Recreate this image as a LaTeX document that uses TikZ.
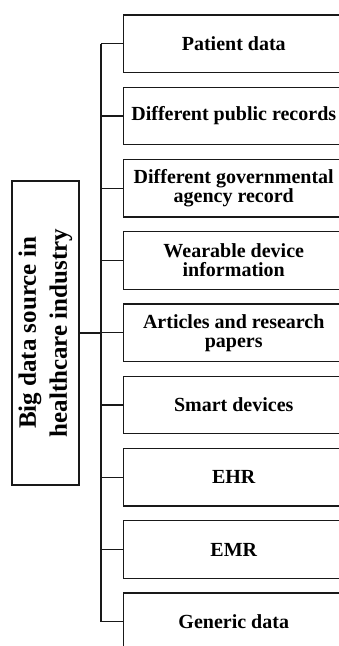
\documentclass[tikz,border=0pt]{standalone}
\usepackage{fontspec}
\setmainfont{Liberation Serif}
\begin{document}
\begin{tikzpicture}[x=1pt,y=-1pt,
  ln/.style={draw=black!90, line width=1.3pt},
  srcbox/.style={ln, rotate=90, minimum width=304pt, minimum height=67pt, inner sep=0pt, align=center,
    font=\fontsize{25}{31}\selectfont\bfseries},
  itembox/.style={ln, minimum width=221pt, minimum height=57.5pt, inner sep=0pt, align=center,
    font=\fontsize{20}{19}\selectfont\bfseries}]
\useasboundingbox (0,0) rectangle (339,646);
\clip (0,0) rectangle (339,646);
\node[srcbox] (src) at (45.5,333) {Big data source in\\healthcare industry};
\foreach \i/\t in {1/{Patient data},
                   2/{Different public records},
                   3/{Different governmental\\agency record},
                   4/{Wearable device\\information},
                   5/{Articles and research\\papers},
                   6/{Smart devices},
                   7/{EHR},
                   8/{EMR},
                   9/{Generic data}}{
  \node[itembox] (b\i) at (233.75,{43.75+72.25*(\i-1)}) {\t};
  \coordinate (t\i) at (101,{43.75+72.25*(\i-1)});
  \draw[ln] (t\i) -- (b\i.west);
}
\draw[ln] (t1) -- (t9);
\draw[ln, line width=2.2pt] (src.south) -- (src.south -| t1);
\end{tikzpicture}
\end{document}
